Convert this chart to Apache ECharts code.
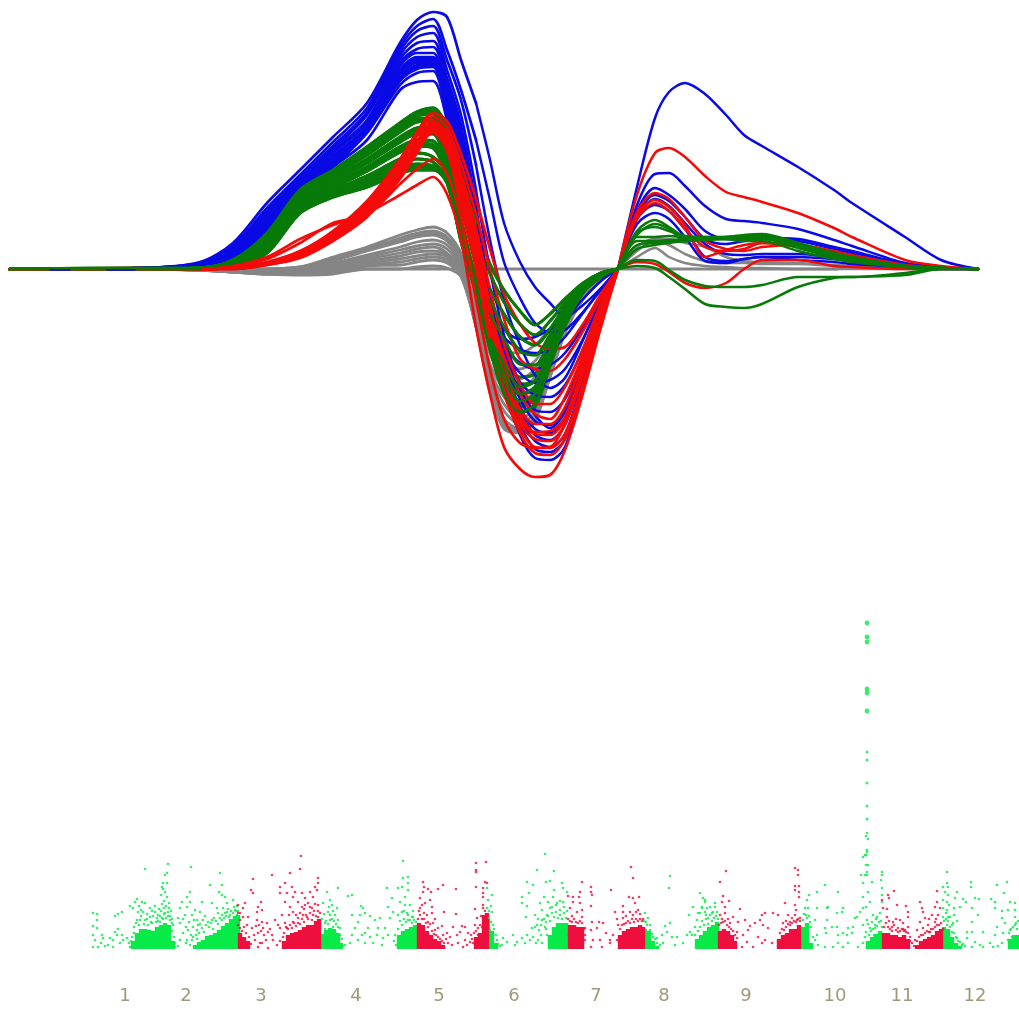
<!DOCTYPE html>
<html><head><meta charset="utf-8">
<style>html,body{margin:0;padding:0;background:#fff}#c{width:1019px;height:1010px;filter:blur(0.45px)}</style>
<script src="https://cdn.jsdelivr.net/npm/echarts@6/dist/echarts.min.js"></script>
</head><body><div id="c"></div>
<script>
// ---- upper panel: signal amplitude at shared sample positions
const xsLeft=[10,140,200,233,267,300,333,367,400,417,433,447,461,476,490,504,520,535,550,565,583,601,618];
const xsRight=[618,637,655,669,685,705,726,744,762,798,834,852,905,941,978];
const blueLeft=[
[0,1,7,26,66,99,132,166,226,249,257,252,209,166,109,46,7,-18,-34,-48,-36,-19,0],
[0,1,6,23,61,94,127,161,222,243,250,219,179,129,69,7,-29,-54,-63,-61,-43,-21,0],
[0,1,6,21,58,91,123,157,218,238,243,209,169,104,29,-31,-76,-106,-119,-109,-71,-31,0],
[0,0,5,20,56,88,120,154,214,232,236,199,154,79,-1,-66,-116,-146,-159,-143,-96,-41,0],
[0,1,5,19,54,86,118,149,210,226,228,191,144,64,-31,-116,-166,-189,-191,-178,-116,-53,0],
[0,0,4,18,52,84,116,146,206,220,222,187,139,59,-26,-96,-141,-166,-171,-156,-103,-46,0],
[0,1,4,17,50,82,113,143,203,216,216,180,132,50,-28,-90,-130,-152,-156,-142,-95,-42,0],
[0,0,4,16,48,80,111,141,199,212,212,175,125,45,-30,-85,-122,-141,-143,-130,-88,-38,0],
[0,0,3,15,46,78,109,139,196,208,208,170,118,40,-32,-82,-113,-126,-128,-116,-80,-35,0],
[0,1,3,14,44,76,106,138,192,204,205,165,112,36,-36,-80,-104,-114,-111,-100,-70,-30,0],
[0,0,3,13,42,74,104,137,188,200,202,160,105,30,-36,-75,-94,-100,-96,-84,-58,-26,0],
[0,0,2,12,40,72,102,136,184,196,198,155,98,25,-36,-68,-80,-84,-81,-68,-44,-20,0],
[0,0,2,11,39,76,102,129,179,187,188,149,90,10,-30,-60,-70,-68,-60,-50,-30,-12,0],
[0,0,3,14,45,77,107,139,194,206,206,168,115,38,-38,-100,-148,-172,-178,-165,-110,-46,0],
[0,1,4,16,47,79,110,140,197,210,210,172,120,42,-36,-105,-155,-180,-183,-170,-112,-50,0],
[0,0,3,15,44,75,105,137,190,202,203,162,108,32,-42,-95,-138,-160,-164,-150,-100,-44,0]];
const greenLeft=[
[0,0,1,9,36,79,99,122,146,157,161,142,95,45,5,-21,-42,-56,-45,-30,-14,-4,0],
[0,0,1,9,34,77,97,120,144,155,158,136,88,35,-5,-33,-55,-66,-52,-34,-16,-4,0],
[0,0,1,8,33,76,96,118,142,153,155,132,80,25,-20,-45,-68,-76,-60,-38,-18,-5,0],
[0,0,1,8,31,74,94,116,139,150,151,127,72,15,-32,-58,-82,-86,-66,-42,-19,-5,0],
[0,0,1,7,30,73,93,114,137,147,148,122,65,5,-45,-70,-95,-96,-72,-46,-20,-6,0],
[0,1,1,7,28,70,90,110,132,141,142,112,50,-12,-70,-95,-118,-112,-82,-50,-21,-7,0],
[0,0,1,6,27,68,88,108,129,138,138,107,48,-16,-72,-104,-125,-118,-86,-52,-21,-7,0],
[0,0,1,6,26,67,87,106,127,135,135,102,45,-20,-75,-112,-132,-125,-90,-54,-22,-7,0],
[0,0,1,5,24,64,84,102,122,129,128,98,38,-18,-80,-124,-143,-135,-95,-57,-24,-8,0],
[0,0,1,5,23,63,82,100,119,126,124,94,34,-22,-78,-110,-135,-130,-92,-54,-23,-8,0],
[0,0,1,5,22,62,81,98,117,123,121,92,30,-24,-80,-120,-143,-138,-97,-55,-23,-8,0],
[0,0,1,4,20,60,78,93,110,116,112,96,42,-10,-60,-100,-125,-120,-85,-52,-22,-7,0],
[0,0,0,3,19,59,76,90,106,110,107,90,38,-12,-60,-95,-115,-112,-80,-50,-21,-6,0],
[0,0,0,3,18,58,75,87,102,105,103,92,35,-15,-60,-90,-108,-105,-78,-48,-20,-6,0],
[0,0,0,3,17,57,73,84,99,102,101,86,30,-20,-68,-100,-125,-120,-88,-52,-22,-7,0],
[0,0,0,2,16,56,72,82,96,99,99,88,28,-22,-72,-108,-138,-128,-92,-54,-22,-7,0]];
const redLeft=[
[0,0,0,1,7,18,38,68,110,137,156,148,115,70,20,-25,-55,-74,-80,-78,-55,-25,0],
[0,0,0,1,6,17,36,65,106,133,152,142,105,55,0,-50,-90,-100,-102,-90,-62,-28,0],
[0,0,0,1,6,16,35,62,102,128,148,136,95,40,-20,-75,-115,-135,-135,-118,-80,-34,0],
[0,0,0,1,5,14,32,58,97,122,144,130,84,25,-42,-88,-125,-145,-150,-128,-86,-37,0],
[0,0,0,1,5,15,33,59,99,124,145,132,88,30,-35,-95,-140,-155,-155,-138,-90,-38,0],
[0,0,0,1,6,15,34,60,100,126,146,134,90,35,-40,-105,-145,-163,-162,-148,-97,-40,0],
[0,1,0,1,5,14,31,57,96,120,142,128,80,20,-48,-110,-150,-165,-166,-150,-100,-42,0],
[0,0,0,0,5,13,30,55,93,118,140,124,72,10,-60,-120,-155,-170,-172,-155,-105,-46,0],
[0,0,0,0,4,12,29,53,92,122,136,118,62,0,-70,-125,-160,-178,-179,-165,-115,-50,0],
[0,0,0,0,4,11,28,52,90,116,138,122,68,5,-65,-122,-164,-184,-186,-170,-118,-54,0],
[0,0,0,3,12,30,44,56,74,84,92,75,30,-58,-125,-178,-200,-208,-206,-181,-124,-58,0],
[0,0,0,2,10,26,46,54,85,100,110,95,50,-30,-100,-150,-174,-179,-178,-155,-105,-48,0]];
const grayLeft=[
[0,0,0,-1,0,2,12,22,34,39,42,36,16,-30,-62,-82,-84,-76,-60,-42,-22,-8,0],
[0,0,0,-1,0,2,10,20,31,36,38,32,12,-35,-72,-95,-100,-92,-70,-46,-24,-8,0],
[0,0,0,-2,-1,1,9,19,29,34,36,30,10,-38,-80,-100,-110,-100,-76,-48,-25,-8,0],
[0,0,0,-2,-1,1,8,18,27,32,34,28,8,-40,-85,-108,-120,-108,-82,-52,-26,-9,0],
[0,0,-1,-2,-2,0,6,14,22,27,29,24,4,-46,-95,-120,-132,-122,-90,-56,-28,-9,0],
[0,0,-1,-2,-3,-1,4,12,19,23,25,20,2,-48,-100,-128,-140,-130,-95,-58,-28,-9,0],
[0,0,-1,-3,-3,-1,3,10,16,20,22,16,0,-52,-105,-135,-150,-138,-100,-60,-28,-9,0],
[0,0,-1,-3,-4,-2,1,8,13,17,18,14,-2,-54,-110,-142,-155,-142,-102,-60,-29,-9,0],
[0,0,-1,-3,-4,-3,0,6,10,13,15,12,-4,-56,-115,-150,-160,-146,-105,-62,-30,-10,0],
[0,0,-1,-3,-5,-4,-1,4,7,10,12,9,-5,-57,-118,-155,-160,-148,-106,-62,-30,-10,0],
[0,0,-1,-3,-5,-5,-3,3,4,7,9,6,-6,-58,-122,-158,-162,-150,-108,-64,-30,-10,0],
[0,0,-1,-3,-5,-6,-5,0,0,2,3,1,-8,-58,-124,-160,-164,-152,-108,-64,-30,-10,0]];
const blueRight=[
[0,82,151,177,186,175,154,134,123,102,79,66,32,9,0],
[0,64,95,96,83,63,50,48,46,40,29,23,6,2,0],
[0,58,81,74,60,38,30,30,31,30,22,18,5,1,0],
[0,55,74,68,52,30,25,28,30,28,20,16,4,1,0],
[0,52,70,63,46,25,15,14,15,15,12,10,3,1,0],
[0,50,64,58,40,12,8,10,12,12,10,8,3,1,0],
[0,45,56,50,32,8,6,10,12,9,7,5,2,0,0]];
const redRight=[
[0,74,116,121,112,93,77,72,67,56,41,32,9,3,0],
[0,57,76,70,52,28,20,18,22,24,18,14,4,1,0],
[0,54,69,62,44,12,19,24,26,22,14,12,3,1,0],
[0,50,66,58,40,22,18,20,26,24,16,12,3,1,0],
[0,7,5,-3,-14,-19,-14,0,9,9,3,2,0,0,0]];
const grayRight=[
[0,12,21,12,6,3,2,1,1,0,0,0,0,0,0],
[0,18,28,24,15,8,6,6,5,5,3,2,1,0,0],
[0,22,30,30,26,22,12,8,7,6,4,3,1,0,0]];
const greenRight=[
[0,38,49,42,32,30,30,31,31,21,12,8,2,1,0],
[0,36,42,38,33,31,30,28,28,18,10,7,2,1,0],
[0,34,45,40,28,30,32,32,33,24,14,10,3,1,0],
[0,32,32,33,32,32,32,33,33,25,14,10,3,1,0],
[0,28,28,29,30,32,31,30,30,22,12,9,3,1,0],
[0,24,26,27,28,29,30,30,31,24,14,11,3,1,0],
[0,20,24,26,28,30,32,34,35,26,16,12,3,1,0],
[0,9,8,-1,-11,-17,-18,-18,-16,-8,-8,-8,-4,0,0],
[0,3,1,-8,-20,-35,-38,-39,-35,-18,-9,-8,-6,0,0]];
const grayBaseline=[[10,0],[838,0]];
const greenTail=[[10,0],[140,0],[200,0]];
const blueTail=[[50,-1],[70,-1],null,[107,-1],[135,-1]];

// ---- lower panel: association scores (position, score)
const chromLabels=['1','2','3','4','5','6','7','8','9','10','11','12'];
const chromCenters=[125,186,261,356,439,514,596,664,746,835,902,975];
const greenDense=[[133,8],[137,16],[141,20],[145,20],[149,19],[153,18],[157,22],[161,24],[165,26],[169,24],[173,8],[195,4],[199,7],[203,9],[207,13],[211,14],[215,16],[219,19],[223,23],[227,26],[231,30],[235,33],[238,34],[322,15],[326,19],[330,21],[334,20],[338,16],[341,6],[399,14],[403,18],[407,20],[411,22],[415,24],[488,30],[492,18],[496,6],[550,14],[554,22],[558,26],[562,26],[566,26],[645,20],[649,18],[653,8],[657,3],[697,10],[701,14],[705,18],[709,22],[713,24],[717,27],[803,22],[807,26],[811,6],[868,8],[872,12],[876,15],[880,18],[944,22],[948,20],[952,12],[956,6],[960,3],[1010,10],[1014,14],[1018,14]];
const redDense=[[240,16],[244,12],[248,8],[284,8],[288,14],[292,16],[296,17],[300,19],[304,22],[308,24],[312,24],[316,28],[319,30],[419,26],[423,24],[427,18],[431,14],[435,10],[439,8],[443,4],[476,12],[480,16],[484,34],[487,36],[570,24],[574,24],[578,22],[582,22],[620,14],[624,18],[628,20],[632,22],[636,22],[640,24],[643,22],[720,18],[724,20],[728,18],[732,14],[735,8],[779,10],[783,14],[787,16],[791,20],[795,20],[799,24],[884,16],[888,16],[892,14],[896,14],[900,12],[904,14],[908,10],[917,4],[921,8],[925,10],[929,12],[933,14],[937,18],[941,20]];
const greenPoints=[[93,36],[97,35],[97,29],[93,23],[97,21],[93,14],[95,9],[93,2],[98,2],[102,14],[103,11],[101,6],[105,3],[110,11],[108,4],[115,33],[118,35],[122,37],[115,17],[118,20],[113,9],[117,14],[122,14],[123,9],[120,6],[127,11],[129,6],[130,2],[113,2],[145,80],[168,85],[167,76],[165,74],[163,66],[167,66],[162,62],[163,60],[165,57],[161,54],[167,52],[164,48],[162,45],[166,43],[169,41],[161,38],[165,36],[168,33],[163,30],[170,29],[160,27],[172,26],[137,50],[135,47],[130,43],[133,41],[142,47],[145,46],[150,41],[138,37],[143,37],[150,32],[155,43],[155,37],[140,29],[137,29],[145,29],[152,26],[158,34],
[134,22],[136,26],[139,24],[141,33],[144,25],[147,35],[148,24],[151,27],[153,33],[156,27],[158,28],[160,33],[162,31],[164,35],[166,31],[168,37],[170,33],[172,30],[173,24],[172,18],[174,12],[175,6],[134,16],[132,12],[131,8],[139,43],[147,30],[141,39],[152,38],[169,46],[171,38],[164,41],[159,40],[157,31],
[191,82],[220,76],[210,64],[222,64],[219,57],[190,57],[187,52],[182,47],[190,47],[202,47],[212,46],[222,54],[225,52],[233,49],[227,46],[180,41],[187,42],[195,39],[200,37],[178,31],[185,34],[192,34],[180,26],[197,29],[217,41],[223,41],[218,36],[222,34],[227,37],[230,34],[235,39],[237,34],[212,29],[208,27],[203,29],[193,22],[188,19],[183,16],[180,9],[175,2],[178,3],[187,9],[193,12],[197,19],[198,24],
[196,14],[199,16],[202,21],[204,17],[206,24],[209,22],[211,26],[213,20],[214,31],[216,28],[218,25],[220,31],[222,29],[224,31],[225,36],[226,33],[228,40],[229,32],[231,38],[233,36],[234,42],[236,38],[237,43],[238,38],[205,33],[200,25],[191,14],[186,22],[183,30],[189,27],[194,29],[186,6],[190,4],[192,9],[197,10],
[327,57],[338,61],[330,49],[332,44],[323,46],[337,41],[328,37],[335,34],[330,29],[338,29],[325,26],[333,22],[340,21],[348,53],[352,54],[361,43],[363,41],[352,34],[360,34],[365,36],[370,33],[375,29],[358,27],[355,21],[368,21],[378,21],[380,31],[365,16],[352,14],[362,14],[370,12],[377,14],[345,4],[350,6],[358,9],[365,6],[373,6],[382,4],[387,61],[392,51],[388,42],[393,37],[390,31],[385,21],[388,14],[383,11],[403,88],[408,72],[403,71],[408,66],[402,62],[398,61],[408,59],[405,52],[400,47],[405,44],[410,44],[402,37],[407,36],[413,32],[408,29],[412,26],
[322,30],[324,35],[326,28],[328,25],[330,34],[332,30],[334,28],[336,25],[338,22],[340,14],[342,10],[343,3],[325,20],[333,38],[329,42],[398,20],[400,28],[402,24],[404,30],[406,27],[408,34],[410,29],[412,32],[414,29],[416,27],[398,34],[404,38],[413,38],[395,14],[394,8],[396,4],
[487,61],[492,54],[488,49],[487,41],[492,37],[489,31],[493,24],[490,19],[493,14],[497,9],[495,2],[503,11],[507,7],[502,4],[513,14],[517,7],[522,11],[527,14],[515,4],[525,6],[530,9],[545,95],[537,79],[554,78],[527,67],[533,64],[546,67],[550,68],[562,66],[554,59],[563,61],[522,52],[529,56],[544,52],[553,52],[567,57],[522,46],[527,43],[540,46],[548,47],[557,46],[563,47],[526,32],[535,34],[542,39],[550,41],[560,39],[537,24],[542,29],[547,34],[532,21],[539,19],[545,22],[533,12],[538,9],[547,14],
[489,38],[491,27],[494,20],[496,14],[498,5],[491,43],[500,3],[535,22],[538,30],[541,24],[544,30],[546,27],[548,33],[550,28],[552,36],[554,32],[556,37],[558,31],[560,34],[562,30],[564,36],[566,31],[552,42],[556,44],[560,48],[564,42],[567,38],[546,20],[541,14],[536,6],[542,6],[549,9],
[645,36],[648,31],[647,24],[650,19],[653,12],[657,6],[658,2],[670,73],[669,61],[665,23],[670,26],[662,14],[667,17],[672,12],[663,6],[675,4],[677,12],[683,6],[687,14],[690,17],[695,22],[689,34],[693,42],[700,56],[703,51],[705,47],[702,41],[705,37],[697,29],[708,31],[712,36],[715,42],[717,37],[705,49],[702,42],[715,46],[707,41],[713,37],
[644,28],[646,27],[650,24],[652,15],[655,10],[657,11],[660,4],[651,7],[692,14],[695,14],[698,18],[700,22],[702,28],[704,24],[706,30],[708,25],[710,34],[712,28],[714,31],[716,33],[718,30],[700,36],[706,34],[710,42],[698,36],
[809,54],[807,49],[805,41],[808,41],[807,31],[810,27],[817,57],[825,64],[838,57],[817,41],[827,41],[828,42],[843,41],[842,37],[837,36],[815,29],[827,29],[837,22],[832,22],[825,21],[826,16],[817,14],[815,9],[818,4],[825,2],[833,2],[838,6],[838,14],[843,16],[848,21],[853,22],[855,31],[847,14],[852,16],[843,2],[848,6],[858,2],[863,6],[867,97],[865,94],[863,92],[868,84],[867,77],[861,74],[865,74],[863,66],[872,67],[868,57],[863,52],[870,47],[863,41],[866,42],[860,37],[873,34],[857,32],[867,29],[872,27],[863,24],[877,32],[882,77],[882,74],[881,69],[882,61],[882,54],[882,47],[870,21],[875,24],[865,12],[867,116],[866,113],[868,110],[866,84],[867,74],
[803,29],[806,34],[809,33],[811,22],[813,12],[804,35],[866,17],[869,14],[871,18],[873,20],[875,21],[877,23],[879,27],[881,28],[868,25],[876,30],[880,36],[874,14],[882,22],
[947,77],[947,66],[943,62],[948,62],[945,57],[948,54],[957,57],[943,49],[947,47],[955,51],[963,50],[966,47],[943,41],[947,39],[954,41],[960,42],[943,32],[948,32],[954,34],[947,24],[953,26],[945,16],[952,17],[957,11],[962,4],[958,2],[967,17],[972,17],[971,67],[971,62],[975,51],[979,50],[972,41],[978,34],[972,27],[983,17],[975,7],[972,2],[967,11],[983,2],[980,4],[997,64],[1007,67],[1004,56],[991,50],[995,47],[1010,47],[1015,46],[995,41],[1002,38],[1008,39],[1015,39],[1002,31],[1015,32],[1005,26],[997,22],[995,14],[1003,16],[1010,19],[990,6],[993,2],[1002,6],[998,3],[1008,9],
[944,28],[946,30],[948,28],[950,22],[952,24],[954,16],[956,12],[958,8],[960,7],[963,5],[965,3],[950,32],[957,28],[946,36],[949,44],[1009,16],[1011,20],[1013,22],[1015,24],[1017,20],[1018,28],[1012,12],[1016,26]];
const redPoints=[[238,44],[243,41],[245,46],[253,70],[251,59],[253,56],[261,47],[258,42],[257,37],[262,39],[272,74],[243,32],[248,32],[240,29],[247,24],[252,21],[257,29],[262,27],[267,26],[268,17],[263,21],[258,16],[272,14],[275,29],[273,9],[268,1],[262,6],[255,9],[258,2],
[238,24],[240,21],[242,18],[244,22],[246,16],[249,12],[251,5],[238,36],[240,36],[256,23],[259,24],[261,18],[264,14],[266,9],[270,20],[254,14],[260,6],
[301,93],[300,80],[290,76],[318,71],[318,66],[315,62],[285,66],[280,62],[292,62],[280,56],[287,56],[295,57],[302,56],[310,57],[317,59],[313,52],[305,51],[293,52],[285,47],[298,47],[308,46],[318,44],[290,42],[302,42],[312,41],[282,34],[293,37],[303,34],[313,34],[298,31],[307,32],[318,32],[278,24],[285,26],[293,27],[280,21],[287,21],
[284,16],[286,22],[288,20],[290,24],[292,21],[294,26],[296,23],[298,26],[300,25],[302,30],[304,27],[306,34],[308,30],[310,36],[312,29],[314,38],[316,33],[318,38],[320,36],[300,36],[304,40],[296,34],[310,42],[315,45],[305,44],[289,34],[283,12],[280,8],[277,4],
[423,67],[424,62],[428,60],[431,57],[423,57],[420,51],[430,49],[425,46],[420,41],[432,42],[424,36],[432,36],[428,27],[433,26],[438,60],[443,64],[444,37],[456,60],[456,35],[442,23],[438,21],[435,19],[447,16],[448,6],[453,22],[462,23],[465,22],[457,14],[460,17],[468,16],[465,9],[470,7],[452,4],[458,6],[463,2],[443,14],[476,86],[486,87],[476,77],[476,79],[476,62],[485,67],[487,66],[483,61],[483,56],[483,52],[483,44],[475,40],[483,41],[477,31],[475,24],[478,21],
[418,30],[420,34],[422,30],[424,30],[426,26],[428,22],[430,25],[432,18],[434,15],[436,14],[438,12],[440,10],[442,8],[444,6],[419,38],[422,44],[427,34],[446,10],[450,12],[435,30],[472,10],[474,16],[476,18],[478,14],[480,24],[482,22],[479,10],[473,6],[481,33],[485,38],[467,4],[471,14],
[568,53],[573,52],[582,67],[580,57],[579,52],[573,47],[580,46],[570,41],[577,37],[582,39],[572,33],[582,32],[591,62],[591,57],[592,54],[591,43],[592,27],[599,27],[603,26],[597,21],[591,19],[585,21],[600,9],[593,9],[602,2],[591,2],[585,9],[610,9],[606,16],[611,59],[631,82],[633,71],[629,52],[635,46],[639,52],[633,51],[623,43],[615,37],[623,37],[630,37],[638,39],[617,30],[623,31],[633,34],[640,35],[618,24],[613,14],[610,6],[617,9],
[568,30],[570,28],[572,27],[574,30],[576,27],[578,26],[580,28],[582,26],[584,20],[585,14],[583,6],[569,14],[620,20],[622,24],[624,25],[626,26],[628,28],[630,26],[632,30],[634,27],[636,30],[638,28],[640,30],[642,28],[643,30],[626,33],[636,37],
[726,78],[720,67],[723,53],[722,47],[729,48],[725,42],[740,40],[720,34],[725,36],[733,32],[738,27],[745,29],[730,26],[750,23],[755,26],[762,34],[765,36],[773,36],[778,34],[760,29],[763,24],[748,19],[743,14],[737,17],[753,2],[742,2],[747,7],[758,12],[765,9],[772,6],[768,21],[762,6],[795,81],[798,79],[798,74],[795,63],[799,63],[795,59],[799,57],[799,52],[785,46],[795,44],[796,39],[788,34],[795,34],[800,31],[783,26],[790,27],[797,29],
[719,24],[721,26],[723,27],[725,28],[727,24],[729,22],[731,20],[733,18],[735,14],[737,11],[722,30],[728,30],[780,16],[782,20],[784,19],[786,22],[788,25],[790,24],[792,26],[794,28],[796,27],[798,30],[800,28],[786,28],[792,31],
[882,49],[883,41],[888,54],[889,51],[894,58],[897,44],[906,43],[887,40],[908,37],[908,32],[887,32],[893,27],[900,29],[903,26],[908,22],[892,22],[898,21],[905,19],[910,12],[920,47],[922,41],[923,37],[937,58],[937,47],[935,42],[940,41],[925,31],[932,34],[938,34],[920,27],[928,24],[935,27],[917,19],[923,21],[930,17],[915,9],
[884,22],[886,26],[888,22],[890,20],[892,18],[894,24],[896,19],[898,17],[900,18],[902,20],[904,18],[906,17],[908,16],[910,8],[912,6],[889,28],[896,30],[903,20],[917,8],[919,12],[921,14],[923,14],[925,16],[927,18],[929,17],[931,20],[933,20],[935,22],[937,24],[939,24],[941,26],[943,20],[929,30],[936,30],[914,3]];
const spikeLarge=[[867,326],[867,312],[867,307],[867,260],[867,256],[867,238]];
const spikeMedium=[[867,197],[867,189],[867,166],[867,143],[867,130],[867,99],[866,94]];

const BLUE='#0a0ae6',RED='#f50a0a',GREEN='#077a07',GRAY='#858585',LG='#08ea48',LR='#ee0f3f';
const series=[];
function line(data,color,w){series.push({type:'line',xAxisIndex:0,yAxisIndex:0,data:data,smooth:0.3,symbol:'none',silent:true,connectNulls:false,lineStyle:{color:color,width:w||2.5,cap:'round',join:'round'}});}
function pair(xs,v,from){return v.map((y,i)=>[xs[i],y]).slice(from||0);}
line(grayBaseline,GRAY,2.8);
grayLeft.forEach(v=>line(pair(xsLeft,v),GRAY,2.8));
grayRight.forEach(v=>line(pair(xsRight,v),GRAY));
blueRight.forEach(v=>line(pair(xsRight,v),BLUE));
greenLeft.forEach(v=>line(pair(xsLeft,v),GREEN,3.2));
blueLeft.forEach(v=>line(pair(xsLeft,v,13),BLUE,2.5));
blueLeft.forEach(v=>line(pair(xsLeft,v).slice(0,14),BLUE,2.7));
greenLeft.forEach(v=>line(pair(xsLeft,v).slice(0,14),GREEN,3.2));
redLeft.forEach(v=>line(pair(xsLeft,v),RED,2.7));
redRight.forEach(v=>line(pair(xsRight,v),RED));
greenLeft.slice(0,9).forEach(v=>line(pair(xsLeft,v,14),GREEN,2.5));
greenRight.forEach(v=>line(pair(xsRight,v),GREEN));
line(greenTail,GREEN,2.8);
line(blueTail,BLUE,1.6);
// lower panel
series.push({type:'bar',xAxisIndex:1,yAxisIndex:1,data:greenDense,barWidth:4.4,barGap:'-100%',silent:true,itemStyle:{color:LG}});
series.push({type:'bar',xAxisIndex:1,yAxisIndex:1,data:redDense,barWidth:4.4,barGap:'-100%',silent:true,itemStyle:{color:LR}});
function dots(data,color,size){series.push({type:'scatter',xAxisIndex:1,yAxisIndex:1,data:data,symbol:'circle',symbolSize:size,silent:true,itemStyle:{color:color}});}
dots(greenPoints,LG,2.7);
dots(redPoints,LR,2.7);
dots(spikeLarge,LG,4.8);
dots(spikeMedium,LG,3);

const chart=echarts.init(document.getElementById('c'),null,{renderer:'canvas'});
chart.setOption({
 animation:false,backgroundColor:'#fff',
 grid:[{left:0,top:0,width:1019,height:500},{left:0,top:600,width:1019,height:349}],
 xAxis:[
  {type:'value',gridIndex:0,min:0,max:1019,show:false},
  {type:'value',gridIndex:1,min:0,max:1019,
   axisLine:{show:false},axisTick:{show:false},splitLine:{show:false},
   axisLabel:{customValues:chromCenters,margin:38,fontFamily:'DejaVu Sans',fontSize:18,color:'#a09878',
     formatter:v=>chromLabels[chromCenters.indexOf(v)]}}],
 yAxis:[
  {type:'value',gridIndex:0,min:-231,max:269,show:false},
  {type:'value',gridIndex:1,min:0,max:349,show:false}],
 series:series
});
</script></body></html>
